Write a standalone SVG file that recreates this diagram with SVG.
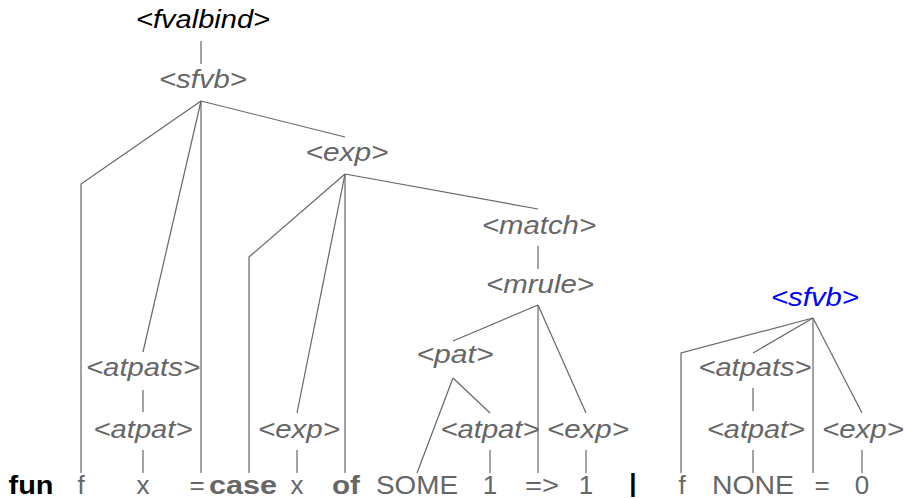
<svg xmlns="http://www.w3.org/2000/svg" width="905" height="499" viewBox="0 0 905 499">
<style>
text{font-family:"Liberation Sans",Arial,sans-serif;font-size:26px;text-anchor:middle;fill:#666}
.nt{font-style:italic}
.blk{fill:#000}
.blue{fill:#0000ff}
.b{font-weight:bold}
#connectors line,#connectors polyline{stroke:#666;stroke-width:1.2;fill:none}
</style>
<rect width="905" height="499" fill="#fff"/>
<g id="connectors">
<line x1="201" y1="41" x2="201" y2="64"/>
<polyline points="201,101 81,184 81,473"/>
<line x1="201" y1="101" x2="143" y2="352"/>
<line x1="201" y1="101" x2="201" y2="473"/>
<line x1="201" y1="101" x2="345" y2="137"/>
<line x1="143" y1="390" x2="143" y2="412"/>
<line x1="143" y1="450" x2="143" y2="473"/>
<polyline points="345,174 249,257 249,473"/>
<line x1="345" y1="174" x2="297" y2="413"/>
<line x1="345" y1="174" x2="345" y2="473"/>
<line x1="345" y1="174" x2="538" y2="209"/>
<line x1="538" y1="246" x2="538" y2="269"/>
<line x1="538" y1="305" x2="453" y2="341"/>
<line x1="538" y1="305" x2="538" y2="473"/>
<line x1="538" y1="305" x2="586" y2="413"/>
<line x1="453" y1="378" x2="417" y2="473"/>
<line x1="453" y1="378" x2="490" y2="413"/>
<line x1="490" y1="450" x2="490" y2="473"/>
<line x1="297" y1="450" x2="297" y2="473"/>
<line x1="586" y1="450" x2="586" y2="473"/>
<polyline points="813,318 681,353 681,473"/>
<line x1="813" y1="318" x2="753" y2="353"/>
<line x1="813" y1="318" x2="813" y2="473"/>
<line x1="813" y1="318" x2="862" y2="413"/>
<line x1="753" y1="388" x2="753" y2="411"/>
<line x1="753" y1="450" x2="753" y2="473"/>
<line x1="862" y1="450" x2="862" y2="473"/>
</g>
<g id="n-fvalbind"><text class="nt blk" x="203" y="28" textLength="134" lengthAdjust="spacingAndGlyphs">&lt;fvalbind&gt;</text></g>
<g id="n-sfvb1"><text class="nt" x="203" y="88" textLength="88" lengthAdjust="spacingAndGlyphs">&lt;sfvb&gt;</text></g>
<g id="n-exp1"><text class="nt" x="347" y="161" textLength="83" lengthAdjust="spacingAndGlyphs">&lt;exp&gt;</text></g>
<g id="n-match"><text class="nt" x="539" y="234" textLength="114" lengthAdjust="spacingAndGlyphs">&lt;match&gt;</text></g>
<g id="n-mrule"><text class="nt" x="540" y="293" textLength="108" lengthAdjust="spacingAndGlyphs">&lt;mrule&gt;</text></g>
<g id="n-pat"><text class="nt" x="455" y="363" textLength="77" lengthAdjust="spacingAndGlyphs">&lt;pat&gt;</text></g>
<g id="n-atpats1"><text class="nt" x="143" y="376" textLength="114" lengthAdjust="spacingAndGlyphs">&lt;atpats&gt;</text></g>
<g id="n-atpat1"><text class="nt" x="143" y="438" textLength="99" lengthAdjust="spacingAndGlyphs">&lt;atpat&gt;</text></g>
<g id="n-exp2"><text class="nt" x="299" y="438" textLength="82" lengthAdjust="spacingAndGlyphs">&lt;exp&gt;</text></g>
<g id="n-atpat2"><text class="nt" x="490" y="438" textLength="99" lengthAdjust="spacingAndGlyphs">&lt;atpat&gt;</text></g>
<g id="n-exp3"><text class="nt" x="588" y="438" textLength="82" lengthAdjust="spacingAndGlyphs">&lt;exp&gt;</text></g>
<g id="n-sfvb2"><text class="nt blue" x="815" y="306" textLength="88" lengthAdjust="spacingAndGlyphs">&lt;sfvb&gt;</text></g>
<g id="n-atpats2"><text class="nt" x="755" y="376" textLength="113" lengthAdjust="spacingAndGlyphs">&lt;atpats&gt;</text></g>
<g id="n-atpat3"><text class="nt" x="756" y="438" textLength="98" lengthAdjust="spacingAndGlyphs">&lt;atpat&gt;</text></g>
<g id="n-exp4"><text class="nt" x="863" y="438" textLength="82" lengthAdjust="spacingAndGlyphs">&lt;exp&gt;</text></g>
<g id="t-fun"><text class="b blk" x="31" y="494" textLength="45" lengthAdjust="spacingAndGlyphs">fun</text></g>
<g id="t-f1"><text x="81" y="494">f</text></g>
<g id="t-x1"><text x="143" y="494">x</text></g>
<g id="t-eq1"><text x="197" y="494">=</text></g>
<g id="t-case"><text class="b" x="243" y="494" textLength="68" lengthAdjust="spacingAndGlyphs">case</text></g>
<g id="t-x2"><text x="297" y="494">x</text></g>
<g id="t-of"><text class="b" x="346" y="494" textLength="28" lengthAdjust="spacingAndGlyphs">of</text></g>
<g id="t-some"><text x="417" y="494" textLength="82" lengthAdjust="spacingAndGlyphs">SOME</text></g>
<g id="t-one1"><text x="490" y="494">1</text></g>
<g id="t-arrow"><text x="542" y="494" textLength="34" lengthAdjust="spacingAndGlyphs">=&gt;</text></g>
<g id="t-one2"><text x="586" y="494">1</text></g>
<g id="t-bar"><text class="b blk" x="633" y="492">|</text></g>
<g id="t-f2"><text x="682" y="494">f</text></g>
<g id="t-none"><text x="753" y="494" textLength="82" lengthAdjust="spacingAndGlyphs">NONE</text></g>
<g id="t-eq2"><text x="822" y="494">=</text></g>
<g id="t-zero"><text x="862" y="494">0</text></g>
</svg>
